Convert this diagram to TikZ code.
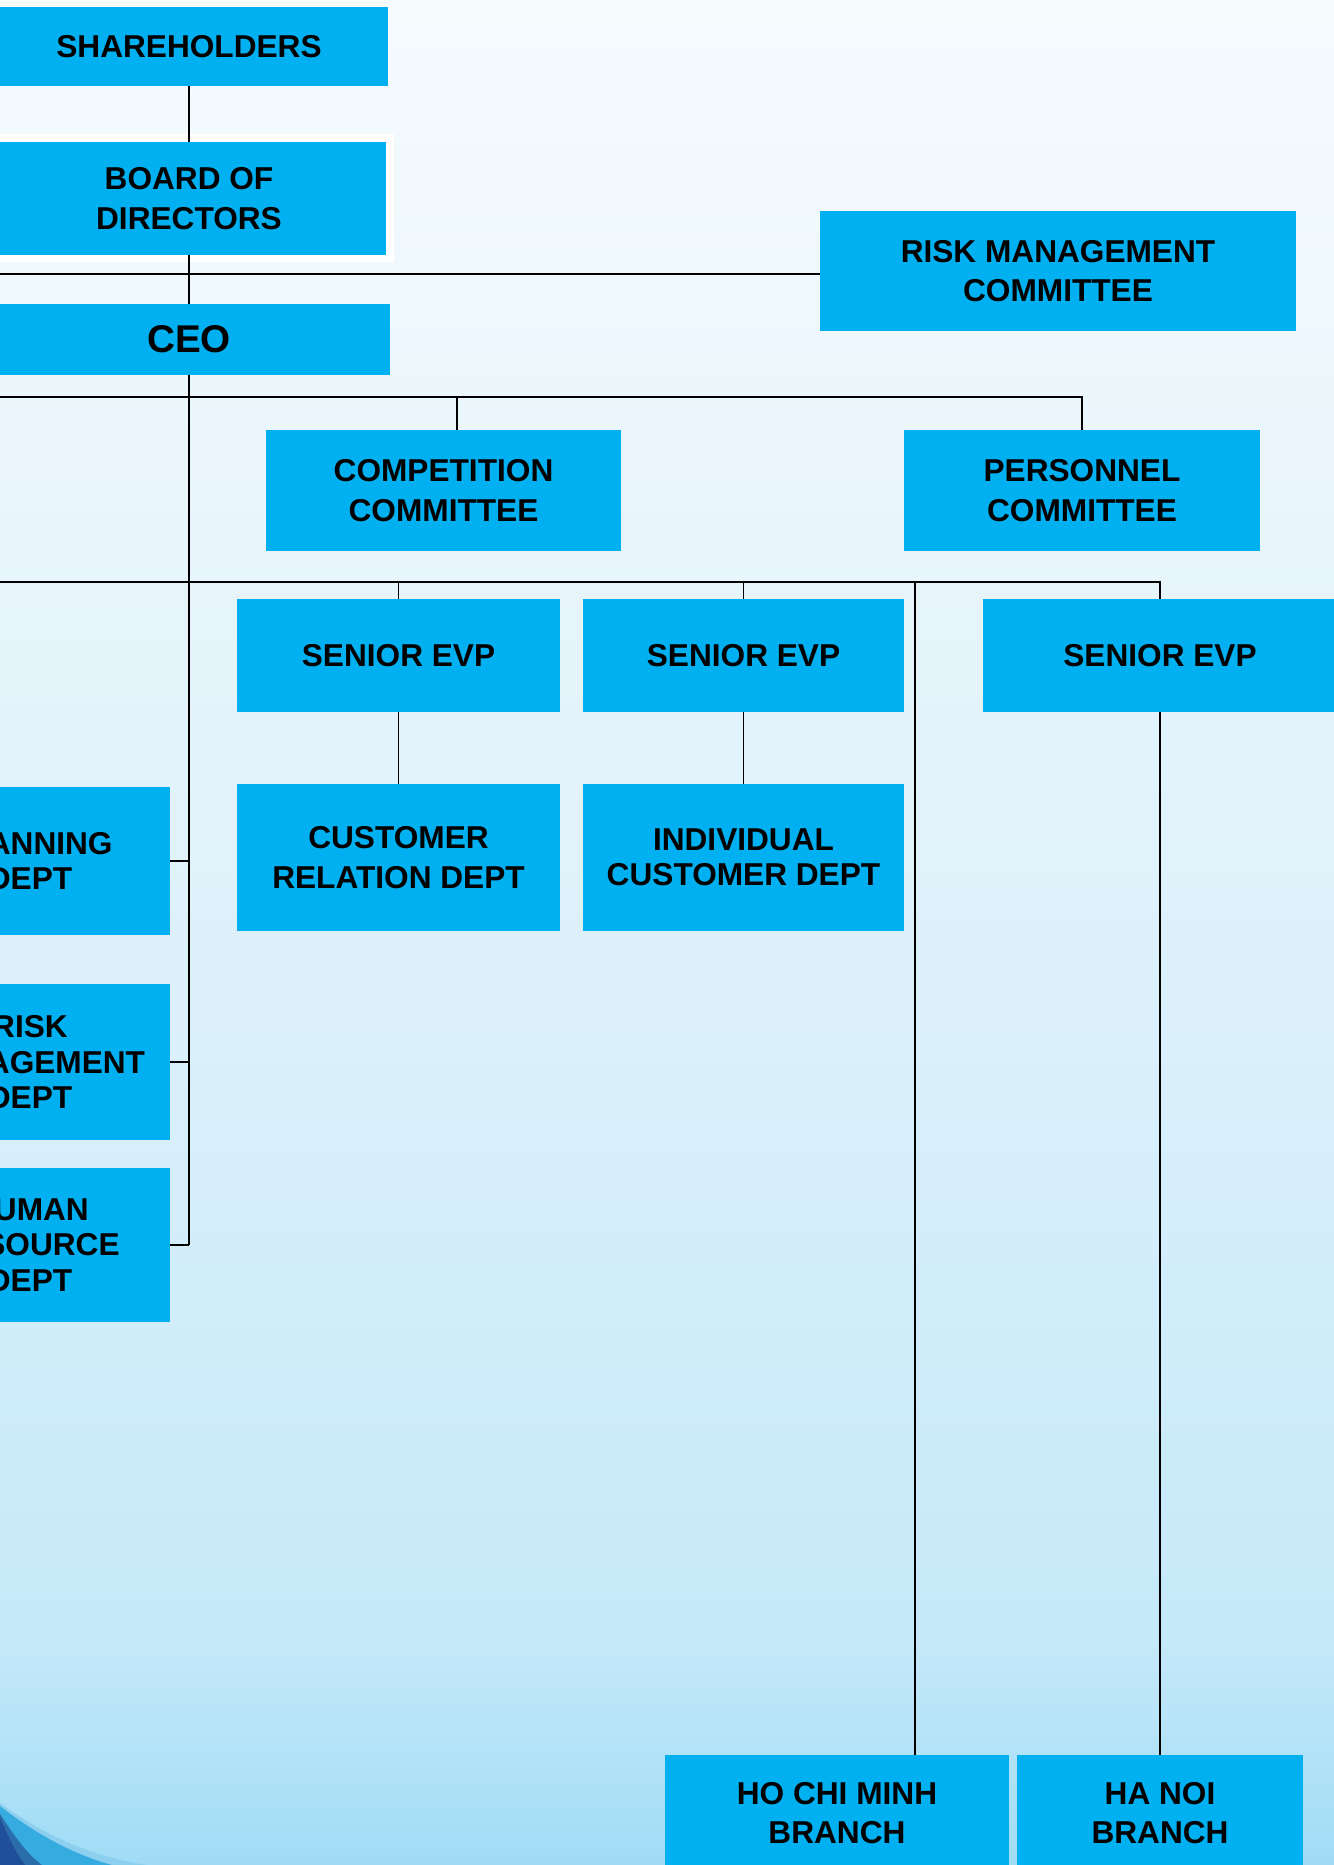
\documentclass[tikz,border=0pt]{standalone}
\usepackage{fontspec}
\setmainfont{Liberation Sans}
\usepackage{xcolor}
\usetikzlibrary{math}
\definecolor{qbox}{RGB}{0,176,240}
\definecolor{qtop}{RGB}{246,251,254}
\definecolor{qmid}{RGB}{222,241,250}
\definecolor{qlow}{RGB}{197,233,249}
\definecolor{qbot}{RGB}{160,220,246}
\definecolor{qedge}{RGB}{140,207,239}
\definecolor{qmed}{RGB}{53,171,224}
\definecolor{qdeep}{RGB}{43,108,170}
\definecolor{qdark}{RGB}{31,79,152}
\pgfdeclareverticalshading{qsky}{100bp}{color(0bp)=(qbot); color(25bp)=(qbot); color(31bp)=(qlow); color(50bp)=(qmid); color(75bp)=(qtop); color(100bp)=(qtop)}

\begin{document}
\begin{tikzpicture}[x=0.02cm, y=-0.02cm,
  box/.style={fill=qbox, inner sep=0pt, align=center, font=\fontsize{18}{22.5}\selectfont\bfseries},
  tight/.style={font=\fontsize{18}{20}\selectfont\bfseries},
  sz/.style 2 args={minimum width=#1*0.02cm, minimum height=#2*0.02cm},
  halo/.style={preaction={draw=white, line width=0.3cm}},
  link/.style={line width=1.1pt}]
\tikzmath{
\W=1334;
\H=1865;
\xl=-20;
}
\useasboundingbox (0,0) rectangle (\W,\H);
\clip (0,0) rectangle (\W,\H);
\shade[shading=qsky] (0,0) rectangle (\W,\H);

\fill[qedge] (0,1803) .. controls (45,1836) and (95,1858) .. (148,1865) -- (0,1865) -- cycle;
\fill[qmed] (0,1806) .. controls (38,1836) and (78,1856) .. (112,1865) -- (0,1865) -- cycle;
\fill[qdeep] (0,1814) .. controls (14,1836) and (28,1855) .. (42,1865) -- (0,1865) -- cycle;
\fill[qdark] (0,1818) .. controls (9,1838) and (17,1855) .. (25,1865) -- (0,1865) -- cycle;

\node[box, sz={398}{79}] (share) at (189,46.5) {SHAREHOLDERS};
\node[box, halo, sz={394}{113}] (board) at (189,198.5) {BOARD OF\\DIRECTORS};
\node[box, sz={402}{71}, font=\fontsize{22}{26}\selectfont\bfseries] (ceo) at (189,339.5) {CEO};
\node[box, sz={476}{120}] (rmc) at (1058,271) {RISK MANAGEMENT\\COMMITTEE};
\node[box, sz={355}{121}] (comp) at (443.5,490.5) {COMPETITION\\COMMITTEE};
\node[box, sz={356}{121}] (pers) at (1082,490.5) {PERSONNEL\\COMMITTEE};
\node[box, sz={323}{113}] (evpa) at (398.5,655.5) {SENIOR EVP};
\node[box, sz={321}{113}] (evpb) at (743.5,655.5) {SENIOR EVP};
\node[box, sz={354}{113}] (evpc) at (1160,655.5) {SENIOR EVP};
\node[box, sz={323}{147}] (crd) at (398.5,857.5) {CUSTOMER\\RELATION DEPT};
\node[box, tight, sz={321}{147}] (icd) at (743.5,857.5) {INDIVIDUAL\\CUSTOMER DEPT};
\node[box, tight, sz={280}{148}] (plan) at (30,861) {PLANNING\\DEPT};
\node[box, tight, sz={280}{156}] (riskd) at (30,1062) {RISK\\MANAGEMENT\\DEPT};
\node[box, tight, sz={280}{154}] (hr) at (30,1245) {HUMAN\\RESOURCE\\DEPT};
\node[box, sz={344}{116}] (hcm) at (837,1813) {HO CHI MINH\\BRANCH};
\node[box, sz={286}{116}] (hn) at (1160,1813) {HA NOI\\BRANCH};

\coordinate (rl) at (\xl,274);
\coordinate (cl) at (\xl,397);
\coordinate (cd) at (457,397);
\coordinate (el) at (\xl,582);
\coordinate (hd) at (915,582);

\draw[link] (share.south) -- (board.north);
\draw[link] (board.south) -- (ceo.north);
\draw[link] (rl) -- (rl -| rmc.west);
\draw[link] (ceo.south) -- (ceo.south |- hr.east);
\draw[link] (cl) -| (pers.north);
\draw[link] (cd) -- (cd |- comp.north);
\draw[link] (el) -| (evpc.north);
\draw[link] (evpa.north |- el) -- (evpa.north);
\draw[link] (evpb.north |- el) -- (evpb.north);
\draw[link] (hd) -- (hd |- hcm.north);
\draw[link] (evpa.south) -- (crd.north);
\draw[link] (evpb.south) -- (icd.north);
\draw[link] (evpc.south) -- (hn.north);
\draw[link] (plan.east) -- (plan.east -| ceo.south);
\draw[link] (riskd.east) -- (riskd.east -| ceo.south);
\draw[link] (hr.east) -- (hr.east -| ceo.south);
\end{tikzpicture}
\end{document}
